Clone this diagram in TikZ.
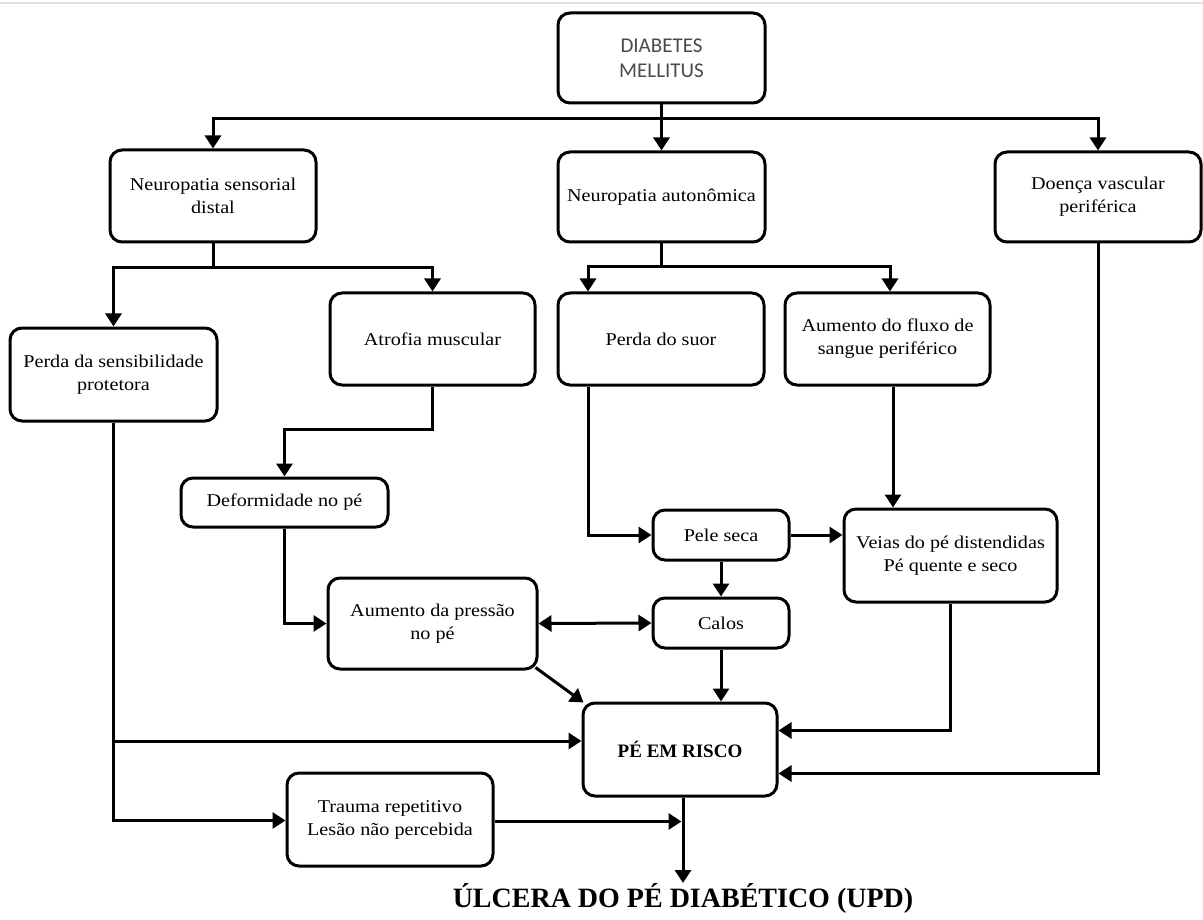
\documentclass[tikz,border=0pt]{standalone}
\usepackage{fontspec}
\setmainfont{Liberation Serif}[FakeStretch=1.12]
\newfontfamily\titlefont{Liberation Serif}
\newfontfamily\dmfont{Carlito}
\usetikzlibrary{arrows.meta,calc}
\definecolor{dmgray}{HTML}{4A4A4A}
\begin{document}
\begin{tikzpicture}[x=1pt,y=-1pt,
  box/.style={draw, line width=3pt, rounded corners=12pt, align=center, inner sep=2pt,
    font=\fontsize{18}{23}\selectfont},
  arr/.style={line width=3pt, -{Triangle[length=13pt,width=16pt]}},
  arrboth/.style={line width=3pt, {Triangle[length=13pt,width=16pt]}-{Triangle[length=13pt,width=16pt]}},
  ln/.style={line width=3pt}]
\useasboundingbox (0,0) rectangle (1203,920);
\fill[white] (0,0) rectangle (1203,920);
\draw[black!12, line width=2pt] (0,3) -- (1203,3);

% nodes
\node[box, minimum width=207pt, minimum height=90pt, font=\dmfont\fontsize{21}{25}\selectfont, text=dmgray] (dm) at (661.5,58) {DIABETES\\MELLITUS};
\node[box, minimum width=206pt, minimum height=92pt] (nsd) at (213,196) {Neuropatia sensorial\\distal};
\node[box, minimum width=207pt, minimum height=90pt] (na) at (661.5,197) {Neuropatia autonômica};
\node[box, minimum width=206pt, minimum height=90pt] (dvp) at (1098,197) {Doença vascular\\periférica};
\node[box, minimum width=207pt, minimum height=93pt] (psp) at (113.5,374.5) {Perda da sensibilidade\\protetora};
\node[box, minimum width=205pt, minimum height=92pt] (am) at (432.5,339) {Atrofia muscular};
\node[box, minimum width=206pt, minimum height=92pt] (ps) at (661,339) {Perda do suor};
\node[box, minimum width=205pt, minimum height=92pt] (afs) at (887.5,339) {Aumento do fluxo de\\sangue periférico};
\node[box, minimum width=207pt, minimum height=49pt] (dp) at (284.5,502.5) {Deformidade no pé};
\node[box, minimum width=136pt, minimum height=50pt] (pse) at (721,535) {Pele seca};
\node[box, minimum width=213pt, minimum height=93pt] (veias) at (950.5,555.5) {Veias do pé distendidas\\Pé quente e seco};
\node[box, minimum width=209pt, minimum height=91pt] (ap) at (432.5,623.5) {Aumento da pressão\\no pé};
\node[box, minimum width=136pt, minimum height=50pt] (calos) at (721,623) {Calos};
\node[box, minimum width=194pt, minimum height=93pt, font=\titlefont\bfseries\fontsize{19}{23}\selectfont] (risco) at (680,749.5) {PÉ EM RISCO};
\node[box, minimum width=206pt, minimum height=93pt] (trauma) at (390,819.5) {Trauma repetitivo\\Lesão não percebida};
\node[inner sep=0pt, anchor=north, font=\titlefont\bfseries\fontsize{28}{32}\selectfont] (upd) at (683,883) {ÚLCERA DO PÉ DIABÉTICO (UPD)};

% connectors
\coordinate (busA) at ($(dm.south)+(0,14)$);
\draw[arr] (dm.south) -- (na.north);
\draw[arr] (busA) -| (nsd.north);
\draw[arr] (busA) -| (dvp.north);

\draw[ln] (nsd.south) -- ++(0,24) coordinate (busB);
\draw[arr] (busB) -| (psp.north);
\draw[arr] (busB) -| (am.north);

\draw[ln] (na.south) -- ++(0,23) coordinate (busC);
\draw[arr] (busC) -| (588,0 |- ps.north);
\draw[arr] (busC) -| (890,0 |- afs.north);

\draw[arr] (am.south) -- ++(0,43) -| (dp.north);
\draw[arr] (dp.south) |- (ap.west);
\draw[arr] (588,0 |- ps.south) |- (pse.west);
\draw[arr] (893,0 |- afs.south) -- (893,0 |- veias.north);
\draw[arr] (pse.east) -- (pse.east -| veias.west);
\draw[arr] (pse.south) -- (calos.north);
\draw[arrboth] (ap.east) -- (calos.west);
\draw[arr] (calos.south) -- (calos.south |- risco.north);
\draw[arr] ($(ap.south east)+(-3,-3)$) -- ($(risco.north west)+(2,1)$);
\draw[arr] (veias.south) |- ($(risco.east)+(0,-19)$);
\draw[arr] (dvp.south) |- ($(risco.east)+(0,24)$);

\coordinate (j1) at (psp.south |- 0,741);
\draw[arr] (psp.south) |- ($(trauma.west)+(0,1)$);
\draw[arr] (j1) -- (j1 -| risco.west);
\coordinate (t1) at ($(trauma.east)+(0,2)$);
\draw[arr, shorten >=1.5pt] (t1) -- (t1 -| upd.north);
\draw[arr] (risco.south -| upd.north) -- (upd.north);
\end{tikzpicture}
\end{document}
